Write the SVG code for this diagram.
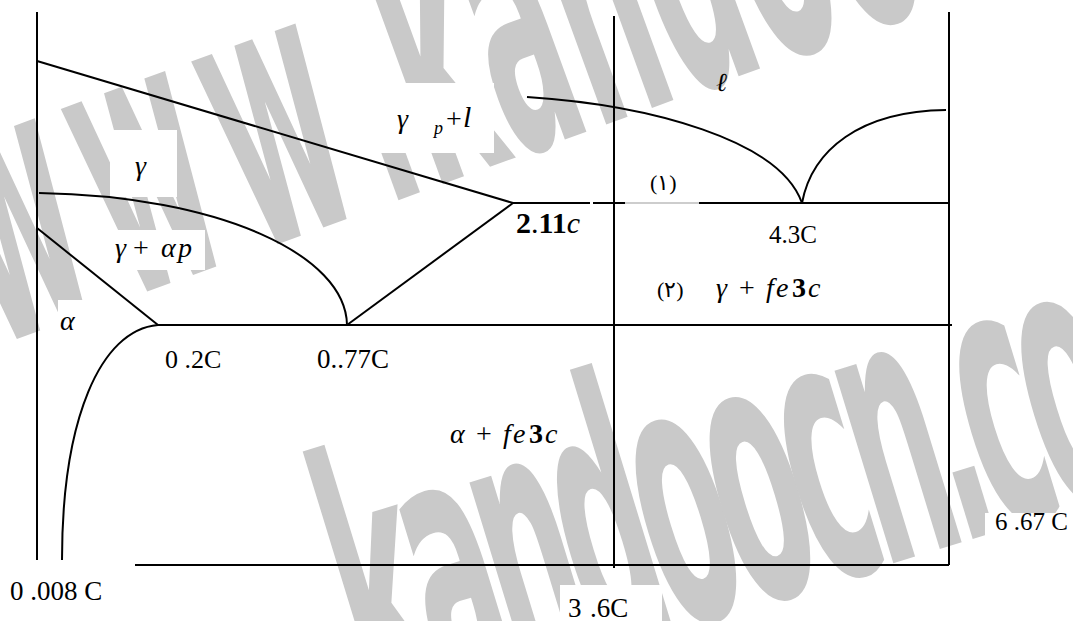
<svg xmlns="http://www.w3.org/2000/svg" width="1073" height="621" viewBox="0 0 1073 621">
<style>
.ln{stroke:#000;stroke-width:2;fill:none}
.lg{stroke:#bdbdbd;stroke-width:1.5;fill:none}
.t{font-family:'Liberation Serif','Times New Roman',serif;fill:#000}
.i{font-style:italic}
.b{font-weight:bold}
.wm{font-family:'DejaVu Sans',sans-serif;font-weight:bold;fill:#c9c9c9;font-size:230px}
.bx{fill:#fff}
</style>
<rect width="1073" height="621" fill="#fff"/>
<g id="watermark">
<text class="wm" transform="translate(-5,347) rotate(-20) scale(0.565,1.6)">w<tspan dx="33">w</tspan><tspan dx="33">w</tspan><tspan dx="33">.kandoocn.com</tspan></text>
<text class="wm" letter-spacing="-21" transform="translate(374,722) rotate(-17) scale(0.565,1.6)">kandoocn.com</text>
</g>
<g id="label-boxes">
<rect class="bx" x="110" y="130" width="67" height="67"/>
<rect class="bx" x="374" y="83" width="120" height="70"/>
<rect class="bx" x="110" y="230" width="95" height="40"/>
<rect class="bx" x="58" y="300" width="32" height="40"/>
<rect class="bx" x="560" y="585" width="102" height="36"/>
<rect class="bx" x="985" y="513" width="88" height="32"/>
</g>
<g id="connectors">
<path class="ln" d="M37,12 V560"/>
<path class="ln" d="M614,16 V568"/>
<path class="ln" d="M949,12 V565"/>
<path class="ln" d="M37,61 L513,203"/>
<path class="ln" d="M527,97 C650,105 780,140 802,203"/>
<path class="ln" d="M802,203 C812,150 860,111 946,110"/>
<path class="ln" d="M513,203 H590 M593,203 H625 M699,203 H949"/>
<path class="lg" d="M625,203 H699"/>
<path class="ln" d="M39,193 C220,196 346,255 347,325"/>
<path class="ln" d="M37,228 L158,325"/>
<path class="ln" d="M347,325 L513,203"/>
<path class="ln" d="M158,325 H952"/>
<path class="ln" d="M158,325 C100,330 62,420 62,560"/>
<path class="ln" d="M135,565 H949"/>
</g>
<g id="labels">
<text class="t i" x="135" y="175" font-size="28">γ</text>
<g id="gamma-p-l">
<text class="t i" x="397" y="128" font-size="28">γ</text>
<text class="t i" x="434" y="134" font-size="18">p</text>
<text class="t" x="446" y="128" font-size="28">+</text>
<text class="t i" x="463" y="127" font-size="30">l</text>
</g>
<g id="gamma-alpha-p">
<text class="t i" x="115" y="257" font-size="28">γ</text>
<text class="t" x="133" y="257" font-size="28">+</text>
<text class="t i" x="161" y="257" font-size="28">α</text>
<text class="t i" x="178" y="257" font-size="28">p</text>
</g>
<text class="t i" x="60" y="330" font-size="28">α</text>
<text class="t" x="165" y="368" font-size="26">0 .2C</text>
<text class="t" x="317" y="368" font-size="27">0..77C</text>
<text class="t" x="10" y="600" font-size="27">0 .008 C</text>
<text class="t" font-size="27" y="617"><tspan x="568">3</tspan><tspan x="590">.6C</tspan></text>
<text class="t" x="995" y="530" font-size="25">6 .67 C</text>
<text class="t" x="769" y="243" font-size="25">4.3C</text>
<text class="t" x="516" y="233" font-size="30"><tspan class="b">2</tspan>.<tspan class="b">11</tspan><tspan class="i">c</tspan></text>
<text class="t" x="650" y="190" font-size="22">(۱)</text>
<text class="t" x="657" y="297" font-size="22">(۲)</text>
<text class="t i" x="716" y="91" font-size="26">ℓ</text>
<g id="gamma-fe3c">
<text class="t i" x="716" y="297" font-size="28">γ</text>
<text class="t" x="739" y="297" font-size="28">+</text>
<text class="t i" x="766" y="297" font-size="28">f</text>
<text class="t i" x="776" y="297" font-size="28">e</text>
<text class="t b" x="792" y="297" font-size="28">3</text>
<text class="t i" x="808" y="297" font-size="28">c</text>
</g>
<g id="alpha-fe3c">
<text class="t i" x="450" y="443" font-size="28">α</text>
<text class="t" x="476" y="443" font-size="28">+</text>
<text class="t i" x="503" y="443" font-size="28">f</text>
<text class="t i" x="513" y="443" font-size="28">e</text>
<text class="t b" x="529" y="443" font-size="28">3</text>
<text class="t i" x="545" y="443" font-size="28">c</text>
</g>
</g>
</svg>
